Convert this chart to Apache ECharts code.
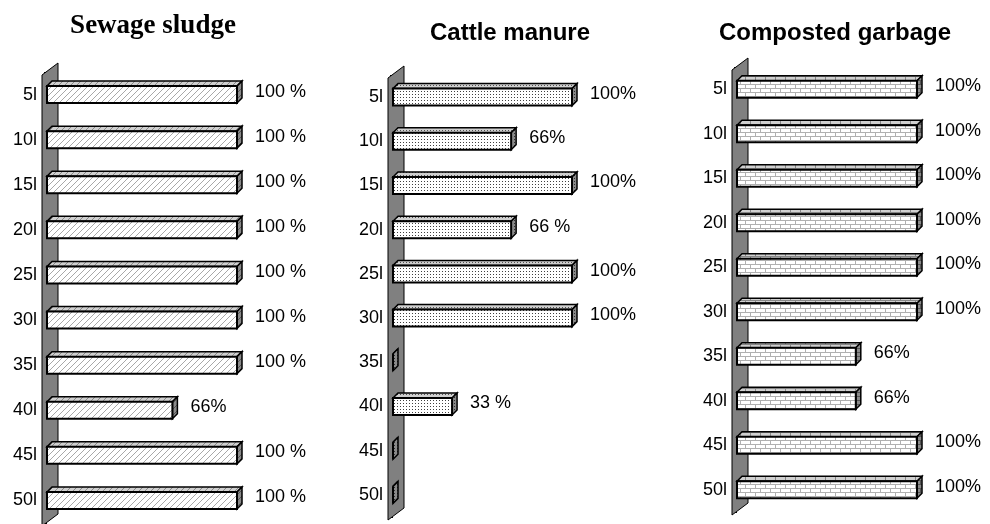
<!DOCTYPE html>
<html>
<head>
<meta charset="utf-8">
<script src="https://cdn.jsdelivr.net/npm/echarts@6/dist/echarts.min.js"></script>
<style>html,body{margin:0;padding:0;background:#fff;}#c{width:990px;height:524px;}</style>
</head>
<body>
<div id="c"></div>
<script>
const categories = ['5l','10l','15l','20l','25l','30l','35l','40l','45l','50l'];
const sewageValues = [100,100,100,100,100,100,100,66,100,100];
const sewageLabels = ['100 %','100 %','100 %','100 %','100 %','100 %','100 %','66%','100 %','100 %'];
const cattleValues = [100,66,100,66,100,100,0,33,0,0];
const cattleLabels = ['100%','66%','100%','66 %','100%','100%','','33 %','',''];
const compostValues = [100,100,100,100,100,100,66,66,100,100];
const compostLabels = ['100%','100%','100%','100%','100%','100%','66%','66%','100%','100%'];
const titles = ['Sewage sludge','Cattle manure','Composted garbage'];

function mk(w,h,draw){const c=document.createElement('canvas');c.width=w;c.height=h;const g=c.getContext('2d');draw(g,w,h);return {image:c,repeat:'repeat'};}
function hatch(bg,fg){return mk(6,6,(g,w,h)=>{g.fillStyle=bg;g.fillRect(0,0,w,h);g.strokeStyle=fg;g.lineWidth=1;
  g.beginPath();g.moveTo(0,6);g.lineTo(6,0);g.moveTo(-1,1);g.lineTo(1,-1);g.moveTo(5,7);g.lineTo(7,5);g.stroke();});}
function dots(bg,fg){return mk(3,3,(g,w,h)=>{g.fillStyle=bg;g.fillRect(0,0,w,h);g.fillStyle=fg;g.fillRect(1,1,1,1);});}
function brick(bg,fg){return mk(10,8,(g,w,h)=>{g.fillStyle=bg;g.fillRect(0,0,w,h);g.fillStyle=fg;
  g.fillRect(0,0,10,1);g.fillRect(0,4,10,1);g.fillRect(0,0,1,4);g.fillRect(5,4,1,4);});}

const styles = [
  {front:hatch('#ffffff','#a8a8a8'), top:hatch('#d0d0d0','#888888'), side:hatch('#8a8a8a','#555555')},
  {front:dots('#ffffff','#404040'), top:dots('#cfcfcf','#505050'), side:dots('#8a8a8a','#303030')},
  {front:brick('#ffffff','#b0b0b0'), top:brick('#d0d0d0','#888888'), side:brick('#8a8a8a','#555555')}
];
const grids = [
  {left:47, top:72, width:190, height:451},
  {left:393, top:75, width:179, height:442},
  {left:737, top:67, width:180, height:445}
];
const titlePos = [
  {left:148, top:8, font:'Liberation Serif', size:27},
  {left:505, top:16, font:'Liberation Sans', size:24},
  {left:830, top:16, font:'Liberation Sans', size:24}
];
const valuesAll = [sewageValues, cattleValues, compostValues];
const labelsAll = [sewageLabels, cattleLabels, compostLabels];

function wallRender(params, api){
  const cs = params.coordSys;
  const x0 = cs.x-5, x1 = cs.x+11, t = cs.y, b = cs.y+cs.height;
  return {type:'polygon', shape:{points:[[x0,t+3],[x1,t-9],[x1,b-9],[x0,b+3]]},
    style:{fill:'#808080', stroke:'#000', lineWidth:1}};
}
function barRender(k){
  return function(params, api){
    const i = params.dataIndex;
    const v = api.value(0), c = api.value(1);
    const p0 = api.coord([0,c]), p1 = api.coord([v,c]);
    const h = 17, d = 5;
    const x0 = p0[0], x1 = p1[0], yc = p0[1];
    const yt = yc-h/2, yb = yc+h/2;
    const st = styles[k];
    const children = [
      {type:'polygon', shape:{points:[[x0,yt],[x0+d,yt-d],[x1+d,yt-d],[x1,yt]]}, style:{fill:st.top, stroke:'#000', lineWidth:1.5}},
      {type:'polygon', shape:{points:[[x1,yt],[x1+d,yt-d],[x1+d,yb-d],[x1,yb]]}, style:{fill:st.side, stroke:'#000', lineWidth:1.5}},
      {type:'rect', shape:{x:x0, y:yt, width:Math.max(x1-x0,0), height:h}, style:{fill:st.front, stroke:'#000', lineWidth:2}}
    ];
    const txt = labelsAll[k][i];
    if (txt) children.push({type:'text', style:{text:txt, x:x1+d+13, y:yc-3, fill:'#000', font:'18px "Liberation Sans", Arial, sans-serif', verticalAlign:'middle', align:'left'}});
    return {type:'group', children};
  };
}

const option = {
  animation:false,
  backgroundColor:'#fff',
  title: titles.map((t,k)=>({text:t, left:titlePos[k].left, top:titlePos[k].top, textAlign:'center',
    textStyle:{fontFamily:titlePos[k].font, fontWeight:'bold', fontSize:titlePos[k].size, color:'#000'}})),
  grid: grids.map(g=>Object.assign({containLabel:false}, g)),
  xAxis: grids.map((g,k)=>({type:'value', gridIndex:k, min:0, max:100, show:false})),
  yAxis: grids.map((g,k)=>({type:'category', gridIndex:k, data:categories, inverse:true, offset:5,
    axisLine:{show:false}, splitLine:{show:false},
    axisTick:{show:true, length:3, lineStyle:{color:'#000', width:1}},
    axisLabel:{color:'#000', fontSize:18, fontFamily:'Liberation Sans', margin:5, padding:[4,0,0,0]}})),
  series: []
};
for (let k=0;k<3;k++){
  option.series.push({type:'custom', xAxisIndex:k, yAxisIndex:k, z:1, renderItem:wallRender, data:[[0,0]], encode:{x:0,y:1}, silent:true});
  option.series.push({type:'custom', xAxisIndex:k, yAxisIndex:k, z:2, renderItem:barRender(k),
    data:valuesAll[k].map((v,i)=>[v,i]), encode:{x:0,y:1}, silent:true});
}
const chart = echarts.init(document.getElementById('c'));
chart.setOption(option);
</script>
</body>
</html>
